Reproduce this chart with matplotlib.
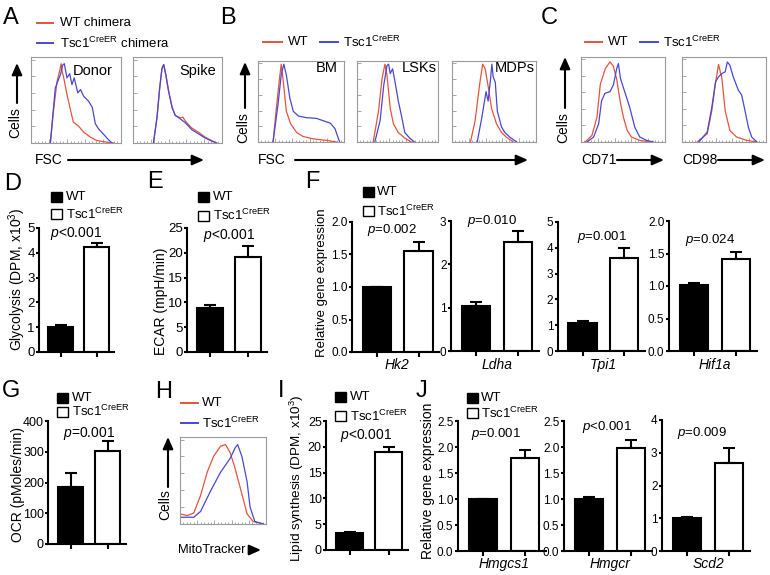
import numpy as np
import matplotlib
matplotlib.use('Agg')
import matplotlib.pyplot as plt
from matplotlib.patches import Rectangle
from matplotlib.ticker import MultipleLocator, FormatStrFormatter

plt.rcParams['font.family'] = ['Liberation Sans', 'DejaVu Sans']
plt.rcParams['mathtext.fontset'] = 'custom'
plt.rcParams['mathtext.rm'] = 'Liberation Sans'
plt.rcParams['mathtext.it'] = 'Liberation Sans:italic'

W, H = 770, 575
RED = '#e5533d'
BLUE = '#4848d6'
TSC = 'Tsc1$^{\\mathregular{CreER}}$'

# ---- flow histograms: (x, y), axes normalised 0..1
donor_wt = [(0.215, 0), (0.25, 0.39), (0.29, 0.74), (0.32, 0.87), (0.335, 0.95), (0.345, 0.86),
            (0.36, 0.80), (0.40, 0.58), (0.44, 0.39), (0.47, 0.25), (0.53, 0.20), (0.585, 0.13),
            (0.66, 0.07), (0.73, 0.03), (0.84, 0.01), (0.92, 0)]
donor_tsc = [(0.215, 0), (0.27, 0.66), (0.33, 0.83), (0.35, 0.93), (0.37, 0.95), (0.40, 0.78),
             (0.43, 0.83), (0.455, 0.70), (0.48, 0.78), (0.52, 0.60), (0.55, 0.64), (0.585, 0.56),
             (0.64, 0.50), (0.68, 0.43), (0.715, 0.23), (0.75, 0.17), (0.81, 0.10), (0.86, 0.04), (0.90, 0)]
spike_wt = [(0.23, 0), (0.27, 0.31), (0.30, 0.66), (0.325, 0.89), (0.345, 0.94), (0.37, 0.81),
            (0.40, 0.62), (0.44, 0.43), (0.475, 0.33), (0.53, 0.30), (0.56, 0.31), (0.59, 0.26),
            (0.66, 0.18), (0.735, 0.13), (0.81, 0.07), (0.89, 0.025), (0.94, 0)]
spike_tsc = [(0.23, 0), (0.27, 0.31), (0.30, 0.66), (0.325, 0.89), (0.345, 0.94), (0.37, 0.81),
             (0.40, 0.62), (0.44, 0.42), (0.475, 0.33), (0.53, 0.29), (0.59, 0.24), (0.66, 0.16),
             (0.735, 0.11), (0.81, 0.06), (0.89, 0.02), (0.94, 0)]
bm_wt = [(0.175, 0), (0.21, 0.39), (0.245, 0.76), (0.27, 0.99), (0.29, 0.81), (0.33, 0.39),
         (0.38, 0.23), (0.45, 0.12), (0.525, 0.07), (0.64, 0.04), (0.80, 0.02), (0.91, 0)]
bm_tsc = [(0.175, 0), (0.233, 0.48), (0.27, 0.85), (0.30, 0.99), (0.33, 0.85), (0.37, 0.56),
          (0.41, 0.39), (0.47, 0.33), (0.56, 0.31), (0.68, 0.30), (0.76, 0.27), (0.84, 0.24),
          (0.895, 0.17), (0.93, 0.06), (0.95, 0)]
lsk_wt = [(0.20, 0), (0.265, 0.39), (0.31, 0.81), (0.345, 0.99), (0.37, 0.85), (0.41, 0.43),
          (0.45, 0.23), (0.51, 0.12), (0.59, 0.05), (0.67, 0)]
lsk_tsc = [(0.22, 0), (0.285, 0.27), (0.33, 0.72), (0.37, 0.97), (0.39, 0.99), (0.41, 0.87),
           (0.44, 0.93), (0.47, 0.76), (0.51, 0.52), (0.55, 0.33), (0.59, 0.12), (0.65, 0.05), (0.71, 0)]
mdp_wt = [(0.22, 0), (0.275, 0.27), (0.33, 0.74), (0.365, 0.99), (0.395, 0.93), (0.435, 0.68),
          (0.47, 0.43), (0.53, 0.23), (0.59, 0.12), (0.65, 0.06), (0.73, 0)]
mdp_tsc = [(0.30, 0), (0.355, 0.31), (0.405, 0.64), (0.43, 0.52), (0.455, 0.76), (0.475, 0.99),
           (0.49, 0.83), (0.515, 0.76), (0.54, 0.39), (0.59, 0.19), (0.63, 0.12), (0.69, 0.06), (0.77, 0)]
cd71_wt = [(0.05, 0), (0.13, 0.08), (0.19, 0.30), (0.23, 0.70), (0.29, 0.89), (0.345, 0.97),
           (0.385, 0.92), (0.425, 0.76), (0.465, 0.50), (0.505, 0.30), (0.55, 0.14), (0.60, 0.06),
           (0.70, 0.02), (0.82, 0)]
cd71_tsc = [(0.07, 0), (0.15, 0.06), (0.21, 0.22), (0.245, 0.50), (0.285, 0.59), (0.345, 0.61),
            (0.385, 0.69), (0.425, 0.89), (0.445, 0.95), (0.47, 0.77), (0.52, 0.61), (0.58, 0.42),
            (0.64, 0.18), (0.70, 0.06), (0.78, 0.02), (0.86, 0)]
cd98_wt = [(0.18, 0), (0.30, 0.10), (0.355, 0.38), (0.395, 0.69), (0.435, 0.94), (0.475, 0.77),
           (0.514, 0.38), (0.57, 0.14), (0.65, 0.06), (0.77, 0.02), (0.89, 0)]
cd98_tsc = [(0.20, 0), (0.30, 0.12), (0.355, 0.42), (0.40, 0.73), (0.435, 0.79), (0.475, 0.83),
            (0.514, 0.85), (0.54, 0.97), (0.57, 0.93), (0.61, 0.79), (0.67, 0.63), (0.71, 0.57),
            (0.75, 0.38), (0.79, 0.18), (0.83, 0.06), (0.89, 0)]
mito_wt = [(0.0, 0.12), (0.085, 0.10), (0.16, 0.13), (0.24, 0.34), (0.315, 0.61), (0.39, 0.80),
           (0.47, 0.92), (0.53, 0.94), (0.585, 0.84), (0.64, 0.66), (0.70, 0.43), (0.78, 0.12),
           (0.85, 0.03), (0.97, 0)]
mito_tsc = [(0.0, 0.08), (0.16, 0.08), (0.24, 0.15), (0.355, 0.39), (0.47, 0.61), (0.585, 0.78),
            (0.64, 0.90), (0.67, 0.94), (0.72, 0.80), (0.78, 0.50), (0.815, 0.20), (0.87, 0.03), (0.97, 0)]

# ---- bar data: [WT, Tsc1CreER] means and upper error
glyco = [1.0, 4.23];   glyco_err = [0.07, 0.16]
ecar = [8.9, 19.1];    ecar_err = [0.5, 2.2]
hk2 = [1.0, 1.55];     hk2_err = [0.0, 0.14]
ldha = [1.04, 2.52];   ldha_err = [0.09, 0.25]
tpi1 = [1.08, 3.6];    tpi1_err = [0.1, 0.38]
hif1a = [1.02, 1.42];  hif1a_err = [0.02, 0.1]
ocr = [185, 302];      ocr_err = [45, 33]
lipid = [3.3, 19.0];   lipid_err = [0.15, 1.0]
hmgcs1 = [1.0, 1.79];  hmgcs1_err = [0.0, 0.15]
hmgcr = [1.0, 1.98];   hmgcr_err = [0.03, 0.15]
scd2 = [1.0, 2.69];    scd2_err = [0.03, 0.46]

fig = plt.figure(figsize=(7.7, 5.75), dpi=100)


def rect(x0, y0, x1, y1):
    return [x0 / W, 1 - y1 / H, (x1 - x0) / W, (y1 - y0) / H]


def hist_panel(box, wt, tsc, label=None, lx=0.95, ly=0.9):
    ax = fig.add_axes(rect(*box))
    ax.plot(*zip(*wt), color=RED, lw=0.9)
    ax.plot(*zip(*tsc), color=BLUE, lw=0.9)
    ax.set_xlim(0, 1)
    ax.set_ylim(0, 1.03)
    for s in ax.spines.values():
        s.set_color('#9a9a9a')
        s.set_linewidth(0.8)
    ax.xaxis.set_major_locator(MultipleLocator(0.2))
    ax.xaxis.set_minor_locator(MultipleLocator(0.04))
    ax.yaxis.set_major_locator(MultipleLocator(0.2))
    ax.tick_params(which='both', direction='in', color='#9a9a9a', width=0.6,
                   labelbottom=False, labelleft=False)
    ax.tick_params(which='major', length=3)
    ax.tick_params(which='minor', length=1.5)
    if label:
        ax.text(lx, ly, label, transform=ax.transAxes, ha='right', va='center', fontsize=10.5)
    return ax


def bar_panel(c0, c1, top, bottom, vals, errs, ymax, step, fmt, lsize=8.5):
    s = c1 - c0
    ax = fig.add_axes(rect(c0 - 0.6 * s, top, c1 + 0.5 * s, bottom))
    ax.bar([0, 1], vals, width=0.68, color=['black', 'white'], edgecolor='black', lw=1.5, zorder=2)
    ax.errorbar([0, 1], vals, yerr=[[0, 0], errs], fmt='none', ecolor='black',
                elinewidth=1.5, capsize=4, capthick=1.5, zorder=3)
    ax.set_xlim(-0.6, 1.5)
    ax.set_ylim(0, ymax)
    ax.set_yticks(np.arange(0, ymax + step / 2, step))
    ax.yaxis.set_major_formatter(FormatStrFormatter(fmt))
    ax.set_xticks([0, 1])
    ax.set_xticklabels([])
    ax.spines['top'].set_visible(False)
    ax.spines['right'].set_visible(False)
    ax.spines['left'].set_linewidth(1.5)
    ax.spines['bottom'].set_linewidth(1.5)
    ax.tick_params(axis='y', width=1.5, length=2.3, labelsize=lsize, pad=0.8)
    ax.tick_params(axis='x', width=1.5, length=3.5)
    return ax


# A, B, C histograms
hist_panel((31, 57, 121, 143), donor_wt, donor_tsc, 'Donor', 0.91, 0.84)
hist_panel((133, 57, 222, 143), spike_wt, spike_tsc, 'Spike', 0.935, 0.84)
hist_panel((258, 61, 344, 142), bm_wt, bm_tsc, 'BM', 0.93, 0.91)
hist_panel((357, 61, 438, 142), lsk_wt, lsk_tsc, 'LSKs', 0.98, 0.91)
hist_panel((452, 61, 536, 142), mdp_wt, mdp_tsc, 'MDPs', 0.98, 0.91)
hist_panel((581, 57, 665, 142), cd71_wt, cd71_tsc)
hist_panel((682, 57, 766, 142), cd98_wt, cd98_tsc)
hist_panel((180, 437, 266, 524), mito_wt, mito_tsc)

# bar panels
bar_panel(60.5, 96.5, 228, 352, glyco, glyco_err, 5, 1, '%d', 9.5)
bar_panel(210, 248, 228, 352, ecar, ecar_err, 25, 5, '%d', 9.5)
bar_panel(377, 418.5, 222, 352, hk2, hk2_err, 2.0, 0.5, '%.1f')
bar_panel(476, 518, 221, 351, ldha, ldha_err, 3, 1, '%d')
bar_panel(582.5, 624, 222, 351, tpi1, tpi1_err, 5, 1, '%d')
bar_panel(694, 736, 221, 351, hif1a, hif1a_err, 2.0, 0.5, '%.1f')
bar_panel(70.5, 107.5, 421, 544, ocr, ocr_err, 400, 100, '%d', 9)
bar_panel(349.5, 388.5, 421, 550, lipid, lipid_err, 25, 5, '%d', 9)
bar_panel(483, 525, 421, 551, hmgcs1, hmgcs1_err, 2.5, 0.5, '%.1f')
bar_panel(589, 631, 421, 551, hmgcr, hmgcr_err, 2.5, 0.5, '%.1f')
bar_panel(687, 729, 420, 551, scd2, scd2_err, 4, 1, '%d')

# overlay in pixel coordinates for letters, legends, labels and arrows
ov = fig.add_axes([0, 0, 1, 1], zorder=10)
ov.set_xlim(0, W)
ov.set_ylim(H, 0)
ov.axis('off')

for letter, x, y in [('A', 3, 18), ('B', 220, 18), ('C', 541, 18), ('D', 4, 184),
                     ('E', 147, 182), ('F', 305, 182), ('G', 2, 391), ('H', 155, 392),
                     ('I', 278, 391), ('J', 416, 391)]:
    ov.text(x, y, letter, fontsize=17, ha='left', va='center')


def line_legend(x0, x1, y, tx, text, color):
    ov.plot([x0, x1], [y, y], color=color, lw=1.4)
    ov.text(tx, y, text, fontsize=9.5, va='center')


line_legend(37, 53, 23, 60, 'WT chimera', RED)
line_legend(37, 53, 43, 60, TSC + ' chimera', BLUE)
line_legend(263, 282, 42, 288, 'WT', RED)
line_legend(320, 338, 42, 343, TSC, BLUE)
line_legend(585, 602, 42, 608, 'WT', RED)
line_legend(640, 658, 42, 663, TSC, BLUE)
line_legend(181, 198, 403, 202, 'WT', RED)
line_legend(181, 198, 423, 202, TSC, BLUE)


def bar_legend(x, y1, y2, tx):
    ov.add_patch(Rectangle((x, y1 - 5), 11, 10, facecolor='black', edgecolor='black', lw=1))
    ov.add_patch(Rectangle((x, y2 - 5), 11, 10, facecolor='white', edgecolor='black', lw=1))
    ov.text(tx, y1, 'WT', fontsize=9.5, va='center')
    ov.text(tx, y2, TSC, fontsize=9.5, va='center')


bar_legend(51, 197, 214, 66)
bar_legend(198, 197, 215.5, 213)
bar_legend(363, 192, 211, 377)
bar_legend(57, 398, 411.5, 72)
bar_legend(335, 397, 416, 350)
bar_legend(467, 398, 413, 481)


def arrow(x0, y0, x1, y1):
    ov.annotate('', xy=(x1, y1), xytext=(x0, y0),
                arrowprops=dict(arrowstyle='-|>,head_length=0.5,head_width=0.22', color='black',
                                lw=1.5, mutation_scale=14, shrinkA=0, shrinkB=0))


# Cells axis labels
for x, y, ax0, ay0, ay1 in [(15, 123, 17, 103, 63), (243, 128, 245, 108, 62),
                            (563, 128, 565, 108, 57), (165, 505, 168, 487, 437)]:
    ov.text(x, y, 'Cells', fontsize=10, rotation=90, ha='center', va='center')
    arrow(ax0, ay0, ax0, ay1)

# x parameter labels
for text, x, y, a0, a1, fs in [('FSC', 35, 160, 68, 204, 10), ('FSC', 258, 160, 295, 528, 10),
                               ('CD71', 581, 160, 617, 664, 10), ('CD98', 682, 160, 718, 765, 10),
                               ('MitoTracker', 178, 550, 250, 261, 9.3)]:
    ov.text(x, y, text, fontsize=fs, va='center')
    arrow(a0, y, a1, y)

# y labels of bar panels
for text, x, y, fs in [('Glycolysis (DPM, x10$^{\\mathregular{3}}$)', 17, 279, 10),
                       ('ECAR (mpH/min)', 161, 301, 10),
                       ('Relative gene expression', 322, 283, 9.5),
                       ('OCR (pMoles/min)', 18, 485, 10),
                       ('Lipid synthesis (DPM, x10$^{\\mathregular{3}}$)', 297, 478, 9.7),
                       ('Relative gene expression', 428, 481, 10)]:
    ov.text(x, y, text, fontsize=fs, rotation=90, ha='center', va='center')

# p values
for text, x, y, fs in [('$p$<0.001', 50, 234, 10), ('$p$<0.001', 203, 235, 10),
                       ('$p$=0.002', 367, 230, 9.5), ('$p$=0.010', 467, 221, 9.5),
                       ('$p$=0.001', 577, 237, 9.5), ('$p$=0.024', 685, 240, 9.5),
                       ('$p$=0.001', 63, 433, 10), ('$p$<0.001', 340, 435, 10),
                       ('$p$=0.001', 471, 434, 9.5), ('$p$<0.001', 582, 427, 9.5),
                       ('$p$=0.009', 677, 433, 9.5)]:
    ov.text(x, y, text, fontsize=fs, va='center', ha='left')

# gene names
for text, x, y in [('Hk2', 397, 365), ('Ldha', 497, 365), ('Tpi1', 603, 365), ('Hif1a', 715, 365),
                   ('Hmgcs1', 504, 564), ('Hmgcr', 610, 564), ('Scd2', 708, 564)]:
    ov.text(x, y, text, fontsize=10, style='italic', ha='center', va='center')

fig.savefig('out.png', dpi=100)
